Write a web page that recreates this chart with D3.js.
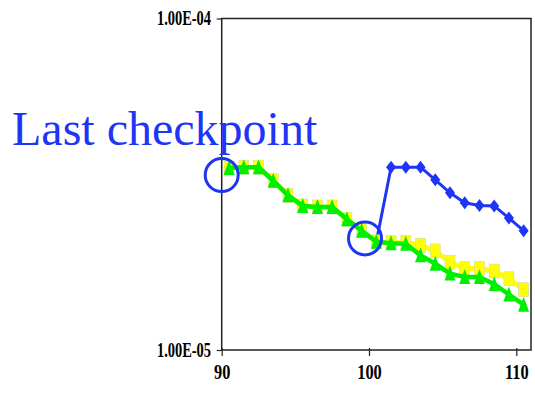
<!DOCTYPE html>
<html>
<head>
<meta charset="utf-8">
<script src="https://cdn.jsdelivr.net/npm/d3@7"></script>
<style>
  html, body { margin: 0; padding: 0; background: #fff; }
  svg { display: block; }
</style>
</head>
<body>
<div id="chart"></div>
<script>
// iteration positions of the plotted points
const xValues = [90.5, 91.5, 92.5, 93.5, 94.5, 95.5, 96.5, 97.5, 98.5, 99.5, 100.5,
  101.5, 102.5, 103.5, 104.5, 105.5, 106.5, 107.5, 108.5, 109.5, 110.5];

const greenValues = [3.54e-5, 3.56e-5, 3.56e-5, 3.24e-5, 2.93e-5, 2.72e-5, 2.70e-5, 2.70e-5,
  2.48e-5, 2.29e-5, 2.12e-5, 2.10e-5, 2.09e-5, 1.93e-5, 1.82e-5, 1.70e-5, 1.66e-5, 1.66e-5,
  1.58e-5, 1.47e-5, 1.37e-5];

const yellowValues = [3.54e-5, 3.56e-5, 3.56e-5, 3.24e-5, 2.93e-5, 2.72e-5, 2.70e-5, 2.70e-5,
  2.48e-5, 2.29e-5, 2.12e-5, 2.11e-5, 2.11e-5, 2.07e-5, 1.99e-5, 1.84e-5, 1.76e-5, 1.76e-5,
  1.73e-5, 1.64e-5, 1.52e-5];

// restart series, begins at the checkpoint
const blueX = [100.5, 101.5, 102.5, 103.5, 104.5, 105.5, 106.5, 107.5, 108.5, 109.5, 110.5];
const blueValues = [2.12e-5, 3.56e-5, 3.56e-5, 3.56e-5, 3.26e-5, 2.98e-5, 2.78e-5, 2.73e-5,
  2.72e-5, 2.50e-5, 2.29e-5];

const xTicks = [90, 100, 110];
const yTicks = [1e-5, 1e-4];
const yTickLabels = ['1.00E-05', '1.00E-04'];

// circled points: [x, value]
const circles = [[90, 3.37e-5], [99.73, 2.17e-5]];
const annotation = 'Last checkpoint';

const width = 535;
const height = 393;
const margin = { top: 18.5, right: 4, bottom: 43, left: 221.7 };
const blue = '#1e35f5';

const svg = d3
  .select('#chart')
  .append('svg')
  .attr('width', width)
  .attr('height', height);

const x = d3
  .scaleLinear()
  .domain([90, 111])
  .range([margin.left, width - margin.right]);

const y = d3
  .scaleLog()
  .domain([1e-5, 1e-4])
  .range([height - margin.bottom, margin.top]);

// frame
svg
  .append('rect')
  .attr('x', x(90))
  .attr('y', y(1e-4))
  .attr('width', x(111) - x(90))
  .attr('height', y(1e-5) - y(1e-4))
  .attr('fill', 'none')
  .attr('stroke', '#222')
  .attr('stroke-width', 1.5);

svg
  .append('g')
  .attr('transform', `translate(0,${height - margin.bottom})`)
  .call(d3.axisBottom(x).tickValues(xTicks).tickSize(6).tickPadding(8).tickFormat(d3.format('d')))
  .call(g => g.select('.domain').remove())
  .call(g => g.selectAll('.tick line').attr('y1', -2).attr('stroke', '#222').attr('stroke-width', 1.2))
  .call(g => g.selectAll('text')
    .attr('fill', '#000')
    .attr('transform', 'scale(0.78,1)')
    .style('font-family', '"Liberation Serif", "Times New Roman", serif')
    .style('font-weight', 'bold')
    .style('font-size', '21px'));

svg
  .append('g')
  .attr('transform', `translate(${margin.left},0)`)
  .call(d3.axisLeft(y).tickValues(yTicks).tickSize(5).tickPadding(10)
    .tickFormat((d, i) => yTickLabels[i]))
  .call(g => g.select('.domain').remove())
  .call(g => g.selectAll('.tick line').attr('stroke', '#222').attr('stroke-width', 1.2))
  .call(g => g.selectAll('text')
    .attr('fill', '#000')
    .attr('transform', 'scale(0.72,1)')
    .style('font-family', '"Liberation Serif", "Times New Roman", serif')
    .style('font-weight', 'bold')
    .style('font-size', '20px'));

const line = d3
  .line()
  .x(d => x(d[0]))
  .y(d => y(d[1]));

const blueData = blueX.map((v, i) => [v, blueValues[i]]);
const yellowData = xValues.map((v, i) => [v, yellowValues[i]]);
const greenData = xValues.map((v, i) => [v, greenValues[i]]);

// blue series
svg.append('path')
  .datum(blueData)
  .attr('fill', 'none')
  .attr('stroke', blue)
  .attr('stroke-width', 3)
  .attr('d', line);

svg.selectAll('.diamond')
  .data(blueData)
  .enter()
  .append('path')
  .attr('transform', d => `translate(${x(d[0])},${y(d[1])})`)
  .attr('d', 'M0,-6.5L5,0L0,6.5L-5,0Z')
  .attr('fill', blue);

// yellow series
svg.append('path')
  .datum(yellowData)
  .attr('fill', 'none')
  .attr('stroke', '#ffff00')
  .attr('stroke-width', 5)
  .attr('d', line);

svg.selectAll('.square')
  .data(yellowData)
  .enter()
  .append('rect')
  .attr('x', d => x(d[0]) - 5)
  .attr('y', d => y(d[1]) - 7)
  .attr('width', 10)
  .attr('height', 14)
  .attr('fill', '#ffff00')
  .attr('stroke', '#d6d6b0')
  .attr('stroke-width', 0.6);

// green series
svg.append('path')
  .datum(greenData)
  .attr('fill', 'none')
  .attr('stroke', '#00ee00')
  .attr('stroke-width', 4.5)
  .attr('d', line);

svg.selectAll('.triangle')
  .data(greenData)
  .enter()
  .append('path')
  .attr('transform', d => `translate(${x(d[0])},${y(d[1])})`)
  .attr('d', 'M0,-8L5.5,7L-5.5,7Z')
  .attr('fill', '#00ee00');

// annotation circles
svg.selectAll('.ring')
  .data(circles)
  .enter()
  .append('circle')
  .attr('cx', d => x(d[0]))
  .attr('cy', d => y(d[1]))
  .attr('r', 16.5)
  .attr('fill', 'none')
  .attr('stroke', blue)
  .attr('stroke-width', 3);

svg.append('text')
  .attr('x', 12)
  .attr('y', 145)
  .attr('fill', blue)
  .style('font-family', '"Liberation Serif", "Times New Roman", serif')
  .style('font-size', '48px')
  .text(annotation);
</script>
</body>
</html>
